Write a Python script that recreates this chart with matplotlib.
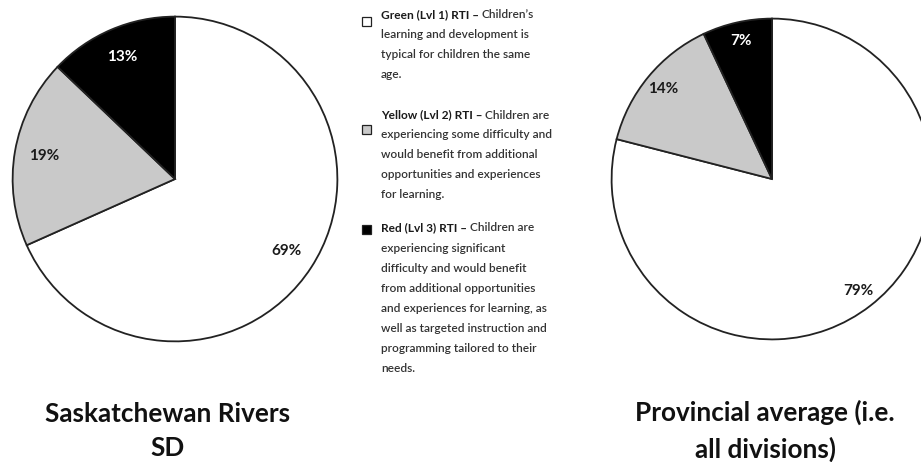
import numpy as np
import matplotlib.pyplot as plt

plt.rcParams['font.family'] = ['Lato', 'DejaVu Sans']

# data
levels = ['Green (Lvl 1) RTI', 'Yellow (Lvl 2) RTI', 'Red (Lvl 3) RTI']
district = [69, 19, 13]
province = [79, 14, 7]
titles = ['Saskatchewan Rivers\nSD', 'Provincial average (i.e.\nall divisions)']
colors = ['#ffffff', '#c9c9c9', '#000000']
label_colors = ['#1a1a1a', '#1a1a1a', '#ffffff']

legend_lines = [
    ['Children\u2019s', 'learning and development is', 'typical for children the same', 'age.'],
    ['Children are', 'experiencing some difficulty and', 'would benefit from additional',
     'opportunities and experiences', 'for learning.'],
    ['Children are', 'experiencing significant', 'difficulty and would benefit',
     'from additional opportunities', 'and experiences for learning, as',
     'well as targeted instruction and', 'programming tailored to their', 'needs.'],
]

W, H = 921, 462
fig = plt.figure(figsize=(W / 100, H / 100), dpi=100)


def px_axes(cx, cy, r):
    return fig.add_axes([(cx - r) / W, 1 - (cy + r) / H, 2 * r / W, 2 * r / H])


def draw_pie(ax, vals, dist):
    wedges, _, autotexts = ax.pie(
        vals, colors=colors, startangle=90, counterclock=False,
        autopct=lambda p: '', pctdistance=dist,
        wedgeprops=dict(edgecolor='#222222', linewidth=1.3))
    for t, v, c in zip(autotexts, vals, label_colors):
        t.set_text(f'{v}%')
        t.set_color(c)
        t.set_fontsize(11)
        t.set_fontweight('bold')
    ax.set_xlim(-1.01, 1.01)
    ax.set_ylim(-1.01, 1.01)
    ax.set_aspect('equal')
    ax.axis('off')


ax1 = px_axes(175, 179, 164)
draw_pie(ax1, district, 0.82)
ax2 = px_axes(772, 179, 162)
draw_pie(ax2, province, 0.88)

# titles
fig.text(168 / W, 1 - 431 / H, titles[0], ha='center', va='center', fontsize=18.8,
         fontweight='bold', color='#111111', linespacing=1.55)
fig.text(765 / W, 1 - 431 / H, titles[1], ha='center', va='center', fontsize=18.8,
         fontweight='bold', color='#111111', linespacing=1.55)

# legend
fs = 8.6
marker_y = [21, 129, 229]
text_y = [15, 115, 228]
for lvl, lines, my, ty, c in zip(levels, legend_lines, marker_y, text_y, colors):
    fig.patches.append(plt.Rectangle((362 / W, 1 - (my + 4.5) / H), 9 / W, 9 / H,
                                     transform=fig.transFigure, facecolor=c,
                                     edgecolor='#222222', linewidth=0.9))
    head = fig.text(381 / W, 1 - ty / H, lvl + ' \u2013 ', fontsize=fs,
                    fontweight='bold', color='#1a1a1a', va='center')
    fig.canvas.draw()
    bb = head.get_window_extent()
    fig.text(bb.x1 / W, 1 - ty / H, lines[0], fontsize=fs, fontweight='semibold',
             color='#333333', va='center')
    for i, ln in enumerate(lines[1:], start=1):
        fig.text(381 / W, 1 - (ty + 20 * i) / H, ln, fontsize=fs, fontweight='semibold',
                 color='#333333', va='center')

fig.savefig('out.png', dpi=100)
